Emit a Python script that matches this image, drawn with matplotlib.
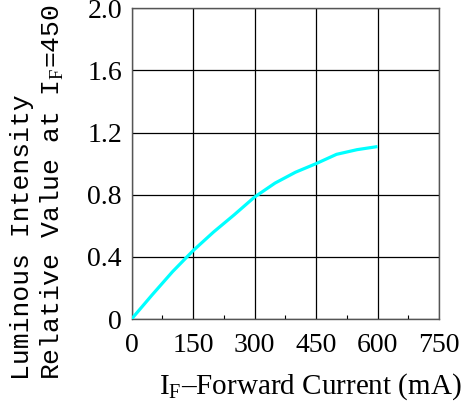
import matplotlib
matplotlib.use("Agg")
import matplotlib.pyplot as plt
from matplotlib.ticker import MultipleLocator

current_ma = [0, 50, 100, 150, 200, 250, 300, 350, 400, 450, 500, 550, 600]
rel_intensity = [0.0, 0.155, 0.305, 0.44, 0.56, 0.67, 0.785, 0.875, 0.945, 1.0, 1.06, 1.09, 1.11]
x_ticks = [0, 150, 300, 450, 600, 750]
y_ticks = [0, 0.4, 0.8, 1.2, 1.6, 2.0]
y_tick_labels = ["0", "0.4", "0.8", "1.2", "1.6", "2.0"]

plt.rcParams['mathtext.fontset'] = 'custom'
plt.rcParams['mathtext.rm'] = 'Liberation Serif'

fig = plt.figure(figsize=(4.7, 4.03), dpi=100)
ax = fig.add_axes([0.280, 0.2084, 0.654, 0.771])

ax.plot(current_ma, rel_intensity, color="#00FFFF", linewidth=2.3, solid_capstyle='butt', zorder=3)

ax.set_xlim(0, 750)
ax.set_ylim(0, 2.0)
ax.set_xticks(x_ticks)
ax.set_yticks(y_ticks)
ax.set_yticklabels(y_tick_labels)
ax.xaxis.set_minor_locator(MultipleLocator(75))
ax.tick_params(axis='both', which='major', length=0, labelsize=20)
ax.tick_params(axis='x', which='major', pad=10)
ax.tick_params(axis='x', which='minor', direction='in', length=3, width=0.8, bottom=True)
ax.tick_params(axis='y', which='major', pad=7)
for lab in ax.get_xticklabels() + ax.get_yticklabels():
    lab.set_fontfamily('Liberation Serif')

ax.grid(True, which='major', color='black', linewidth=0.9)
for s in ax.spines.values():
    s.set_color('#555555')
    s.set_linewidth(1.0)

W, H = 470, 403
fig.text(310 / W, 1 - 387 / H, r"I$_\mathrm{F}$–Forward Current (mA)",
         ha='center', va='center', fontsize=21, family='Liberation Serif')
fig.text(22 / W, 1 - 380 / H, "Luminous Intensity", rotation=90,
         ha='center', va='bottom', fontsize=19, family='Liberation Mono')
fig.text(52 / W, 1 - 380 / H, r"Relative Value at I$_\mathrm{F}$=450", rotation=90,
         ha='center', va='bottom', fontsize=19, family='Liberation Mono')

fig.savefig("out.png", dpi=100)
